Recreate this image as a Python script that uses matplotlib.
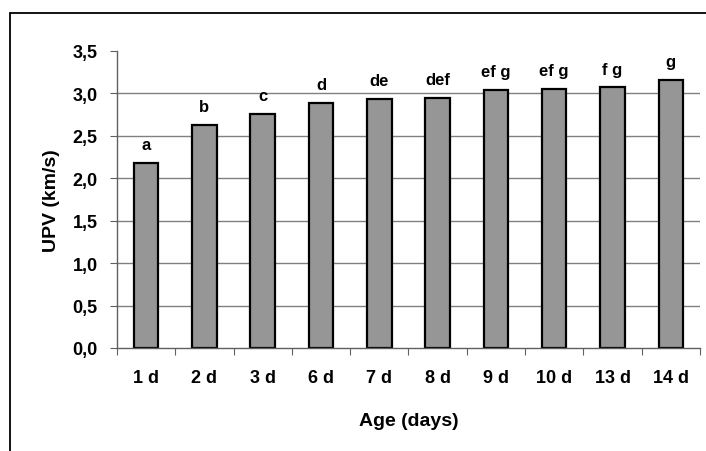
import matplotlib.pyplot as plt
from matplotlib.patches import Rectangle

plt.rcParams['font.family'] = ['Liberation Sans', 'DejaVu Sans']
plt.rcParams['font.weight'] = 'bold'

# data
ages = ['1 d', '2 d', '3 d', '6 d', '7 d', '8 d', '9 d', '10 d', '13 d', '14 d']
upv = [2.18, 2.63, 2.76, 2.89, 2.93, 2.95, 3.04, 3.05, 3.07, 3.16]
groups = ['a', 'b', 'c', 'd', 'de', 'def', 'ef g', 'ef g', 'f g', 'g']
yticks = [0.0, 0.5, 1.0, 1.5, 2.0, 2.5, 3.0, 3.5]

fig = plt.figure(figsize=(7.06, 4.52), dpi=100)
ax = fig.add_axes([0.1657, 0.2279, 0.8258, 0.6571])

# outer frame (only top and left are visible in the reference)
fig.patches.append(Rectangle((0.0142, -0.05), 1.2, 1.019, transform=fig.transFigure,
                             fill=False, edgecolor='black', linewidth=1.3))

x = range(len(ages))
for v in yticks[1:-1]:
    ax.axhline(v, color='#808080', linewidth=1, zorder=1)
ax.bar(x, upv, width=0.42, color='#969696', edgecolor='black', linewidth=1.6, zorder=2)

for i, (v, g) in enumerate(zip(upv, groups)):
    ax.annotate(g, (i, v), xytext=(0, 10), textcoords='offset points',
                ha='center', va='baseline', fontsize=12, fontweight='bold')

ax.set_xlim(-0.5, len(ages) - 0.5)
ax.set_ylim(0, 3.5)
ax.set_yticks(yticks)
ax.set_yticklabels([f'{v:.1f}'.replace('.', ',') for v in yticks], fontsize=13)
ax.set_xticks([i - 0.5 for i in range(len(ages) + 1)], minor=False)
ax.set_xticklabels([])
ax.set_xticks(list(x), minor=True)
ax.set_xticklabels(ages, minor=True, fontsize=13)
ax.tick_params(axis='x', which='minor', length=0, pad=15)
ax.tick_params(axis='x', which='major', length=5, color='#606060', direction='out')
ax.tick_params(axis='y', length=5, color='#606060', direction='out', pad=9)

for s in ['top', 'right']:
    ax.spines[s].set_visible(False)
for s in ['left', 'bottom']:
    ax.spines[s].set_color('#606060')
    ax.spines[s].set_linewidth(1)

ax.set_ylabel('UPV (km/s)', fontsize=14, fontweight='bold', labelpad=9)
ax.set_xlabel('Age (days)', fontsize=14, fontweight='bold', labelpad=19)

fig.savefig('out.png', dpi=100)
